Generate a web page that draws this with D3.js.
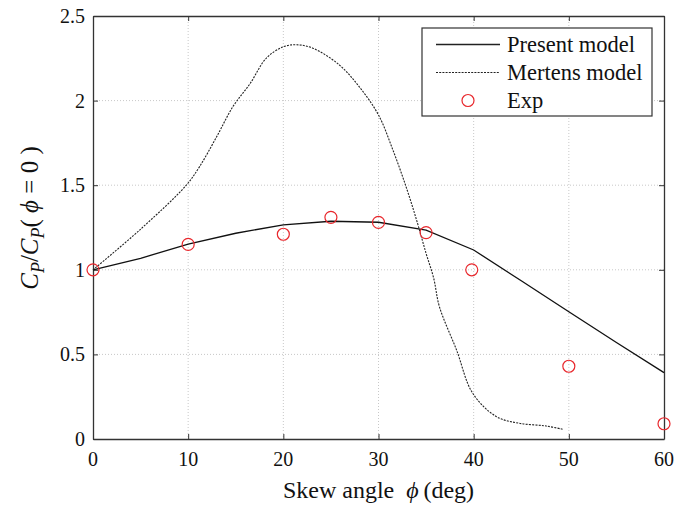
<!DOCTYPE html>
<html>
<head>
<meta charset="utf-8">
<script src="https://cdn.jsdelivr.net/npm/d3@7"></script>
<style>
	body { margin:0; background:#fff; overflow:hidden; }
	svg { display:block; }
	text { font-family:"Liberation Serif","Times New Roman","DejaVu Serif",serif; fill:#111; }
</style>
</head>
<body>
<svg id="chart"></svg>
<script>
/*************** data *****************/
var xTicks = [0,10,20,30,40,50,60];
var yTicks = [0,0.5,1,1.5,2,2.5];

// present model, every 5 deg
var presentPhi = [0,5,10,15,20,25,30,35,40,45,50,55,60];
var presentVal = [1.0,1.068,1.152,1.216,1.266,1.287,1.281,1.235,1.117,0.935,0.752,0.57,0.392];

// Mertens model
var mertensPhi = [0,4.9,9.8,11.2,13.0,14.7,16.5,18.2,20.0,21.4,23.1,25.9,28.0,30.0,31.5,32.9,34.0,35.0,35.8,36.4,38.2,39.9,42.4,44.8,47.6,49.4];
var mertensVal = [1.0,1.235,1.50,1.61,1.787,1.964,2.10,2.25,2.318,2.33,2.31,2.21,2.08,1.915,1.71,1.49,1.294,1.097,0.95,0.782,0.526,0.27,0.132,0.093,0.077,0.057];

// experiment
var expPhi = [0,10,20,25,30,35,39.8,50,60];
var expVal = [1.0,1.15,1.21,1.31,1.28,1.22,1.0,0.43,0.09];

/*************** settings *****************/
var width = 679, height = 509,
	margin = {top:16,right:15,bottom:70,left:93},
	innerWidth = width - margin.left - margin.right,
	innerHeight = height - margin.top - margin.bottom,
	tickLen = 5,
	red = "#e8272c",
	phi = "\u03d5";

var svg = d3.select("#chart").attr("width",width).attr("height",height);
var g = svg.append("g").attr("transform","translate("+margin.left+","+margin.top+")");

var x = d3.scaleLinear().domain([0,60]).range([0,innerWidth]);
var y = d3.scaleLinear().domain([0,2.5]).range([innerHeight,0]);

/*************** grid *****************/
g.append("g").selectAll("line").data(xTicks.slice(1,-1)).enter().append("line")
	.attr("x1",function(d){return x(d);}).attr("x2",function(d){return x(d);})
	.attr("y1",0).attr("y2",innerHeight)
	.attr("stroke","#c8c8c8").attr("stroke-dasharray","1,2");
g.append("g").selectAll("line").data(yTicks.slice(1,-1)).enter().append("line")
	.attr("y1",function(d){return y(d);}).attr("y2",function(d){return y(d);})
	.attr("x1",0).attr("x2",innerWidth)
	.attr("stroke","#c8c8c8").attr("stroke-dasharray","1,2");

/*************** axes (box with inner ticks) *****************/
var axisColor = "#333";
g.append("g").attr("transform","translate(0,"+innerHeight+")")
	.call(d3.axisBottom(x).tickValues(xTicks).tickSizeInner(-tickLen).tickSizeOuter(0).tickFormat(""));
g.append("g")
	.call(d3.axisTop(x).tickValues(xTicks).tickSizeInner(-tickLen).tickSizeOuter(0).tickFormat(""));
g.append("g")
	.call(d3.axisLeft(y).tickValues(yTicks).tickSizeInner(-tickLen).tickSizeOuter(0).tickFormat(""));
g.append("g").attr("transform","translate("+innerWidth+",0)")
	.call(d3.axisRight(y).tickValues(yTicks).tickSizeInner(-tickLen).tickSizeOuter(0).tickFormat(""));
g.selectAll(".domain").attr("stroke",axisColor).attr("stroke-width",1.3);
g.selectAll(".tick line").attr("stroke",axisColor);

// tick labels
g.append("g").selectAll("text").data(xTicks).enter().append("text")
	.attr("x",function(d){return x(d);})
	.attr("y",innerHeight+27)
	.attr("text-anchor","middle").style("font-size","20px")
	.text(function(d){return d;});
g.append("g").selectAll("text").data(yTicks).enter().append("text")
	.attr("x",-8)
	.attr("y",function(d){return y(d)+7;})
	.attr("text-anchor","end").style("font-size","20px")
	.text(function(d){return d;});

/*************** lines *****************/
var presentLine = d3.line()
	.x(function(d,i){return x(presentPhi[i]);})
	.y(function(d){return y(d);});
g.append("path").datum(presentVal)
	.attr("d",presentLine).attr("fill","none")
	.attr("stroke","#111").attr("stroke-width",1.3);

var mertensLine = d3.line()
	.curve(d3.curveCatmullRom)
	.x(function(d,i){return x(mertensPhi[i]);})
	.y(function(d){return y(d);});
g.append("path").datum(mertensVal)
	.attr("d",mertensLine).attr("fill","none")
	.attr("stroke","#222").attr("stroke-width",1.1).attr("stroke-dasharray","2,1.2");

/*************** experiment *****************/
g.append("g").selectAll("circle").data(expVal).enter().append("circle")
	.attr("cx",function(d,i){return x(expPhi[i]);})
	.attr("cy",function(d){return y(d);})
	.attr("r",6).attr("fill","none").attr("stroke",red).attr("stroke-width",1.2);

/*************** legend *****************/
var legend = svg.append("g").attr("transform","translate(422,28)");
legend.append("rect").attr("width",230).attr("height",88)
	.attr("fill","#fff").attr("stroke",axisColor).attr("stroke-width",1.2);
var rows = [
	{label:"Present model", type:"solid"},
	{label:"Mertens model", type:"dotted"},
	{label:"Exp", type:"circle"}
];
var row = legend.selectAll("g.row").data(rows).enter().append("g")
	.attr("class","row")
	.attr("transform",function(d,i){return "translate(0,"+(16.5+i*28)+")";});
row.filter(function(d){return d.type!=="circle";}).append("line")
	.attr("x1",14).attr("x2",78).attr("y1",0).attr("y2",0)
	.attr("stroke","#222")
	.attr("stroke-width",function(d){return d.type==="solid"?1.3:1.1;})
	.attr("stroke-dasharray",function(d){return d.type==="solid"?null:"2,1.2";});
row.filter(function(d){return d.type==="circle";}).append("circle")
	.attr("cx",46).attr("cy",0).attr("r",6)
	.attr("fill","none").attr("stroke",red).attr("stroke-width",1.2);
row.append("text").attr("x",85).attr("y",7.5).style("font-size","22.5px")
	.text(function(d){return d.label;});

/*************** axis labels *****************/
var xl = svg.append("text").attr("x",378.5).attr("y",498).attr("text-anchor","middle").style("font-size","24px");
xl.append("tspan").text("Skew angle \u00a0");
xl.append("tspan").attr("font-style","italic").text(phi);
xl.append("tspan").text("\u2009(deg)");

var yl = svg.append("text").attr("transform","translate(38,218) rotate(-90)")
	.attr("text-anchor","middle").style("font-size","25px");
yl.append("tspan").attr("font-style","italic").text("C");
yl.append("tspan").attr("font-style","italic").style("font-size","18px").attr("dy",6).text("P");
yl.append("tspan").attr("dy",-6).text("/");
yl.append("tspan").attr("font-style","italic").text("C");
yl.append("tspan").attr("font-style","italic").style("font-size","18px").attr("dy",6).text("P");
yl.append("tspan").attr("dy",-6).text("( ");
yl.append("tspan").attr("font-style","italic").text(phi);
yl.append("tspan").text(" = 0 )");
</script>
</body>
</html>
